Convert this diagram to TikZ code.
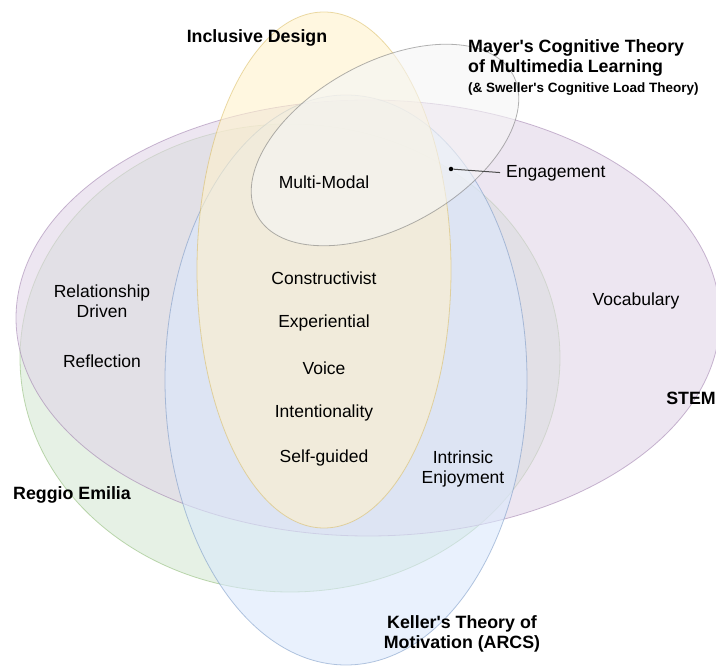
\documentclass[tikz,border=0pt]{standalone}
\usepackage{fontspec}
\setmainfont{Liberation Sans}
\definecolor{stemfill}{HTML}{E1D5E7}
\definecolor{stemline}{HTML}{9673A6}
\definecolor{reggiofill}{HTML}{D5E8D4}
\definecolor{reggioline}{HTML}{82B366}
\definecolor{kellerfill}{HTML}{DAE8FC}
\definecolor{kellerline}{HTML}{6C8EBF}
\definecolor{designfill}{HTML}{FFF2CC}
\definecolor{designline}{HTML}{D6B656}
\definecolor{mayerfill}{HTML}{F5F5F5}
\definecolor{mayerline}{HTML}{666666}
\begin{document}
\begin{tikzpicture}[x=1pt,y=-1pt]
  \tikzset{region/.style = {fill=#1fill, draw=#1line, fill opacity=0.6, draw opacity=0.5, line width=0.8pt}}
  \tikzset{item/.style = {inner sep=0pt, align=center, font=\fontsize{17.5}{20.5}\selectfont}}
  \tikzset{heading/.style = {inner sep=0pt, align=center, font=\fontsize{17.8}{20.5}\selectfont\bfseries}}
  \tikzset{point/.style = {circle, fill=black, minimum size=4.5pt, inner sep=0pt}}

  \def\tilt{29}
  \def\q{\textquotesingle}
  \useasboundingbox (0,0) rectangle (716,668);

  % Sets
  \draw[region=reggio] (290,358) ellipse (270 and 234);
  \draw[region=stem] (368,318) ellipse (352 and 218);
  \draw[region=keller] (346,380) ellipse (181 and 285);
  \draw[region=design] (324,270) ellipse (127 and 258);
  \draw[region=mayer, rotate around={\tilt:(385,145)}] (385,145) ellipse (146 and 82);

  % Set names
  \node[heading] (design) at (257,38) {Inclusive Design};
  \node[heading, anchor=west, align=left] (mayer) at (468,58) {Mayer\q s Cognitive Theory\\of Multimedia Learning};
  \node[heading, anchor=west, font=\fontsize{13.5}{16}\selectfont\bfseries] (sweller) at (468,89) {(\& Sweller\q s Cognitive Load Theory)};
  \node[heading, anchor=east] (stem) at (716,398) {STEM};
  \node[heading] (reggio) at (72,495) {Reggio Emilia};
  \node[heading] (keller) at (462,634) {Keller\q s Theory of\\Motivation (ARCS)};

  % Overlaps
  \node[item] (multimodal) at (324,182) {Multi-Modal};
  \node[item] (constructivist) at (324,278) {Constructivist};
  \node[item] (experiential) at (324,323) {Experiential};
  \node[item] (voice) at (324,368) {Voice};
  \node[item] (intentionality) at (324,413) {Intentionality};
  \node[item] (selfguided) at (324,458) {Self-guided};
  \node[item] (intrinsic) at (463,469) {Intrinsic\\Enjoyment};
  \node[item] (relationship) at (102,301) {Relationship\\Driven};
  \node[item] (reflection) at (102,361) {Reflection};
  \node[item] (vocabulary) at (636,301) {Vocabulary};

  % Engagement
  \node[item, anchor=west] (engagement) at (506,173) {Engagement};
  \node[point] (dot) at (451,169) {};
  \draw[line width=1pt, black!70, shorten >=6pt] (dot) -- (engagement.west);
\end{tikzpicture}
\end{document}
